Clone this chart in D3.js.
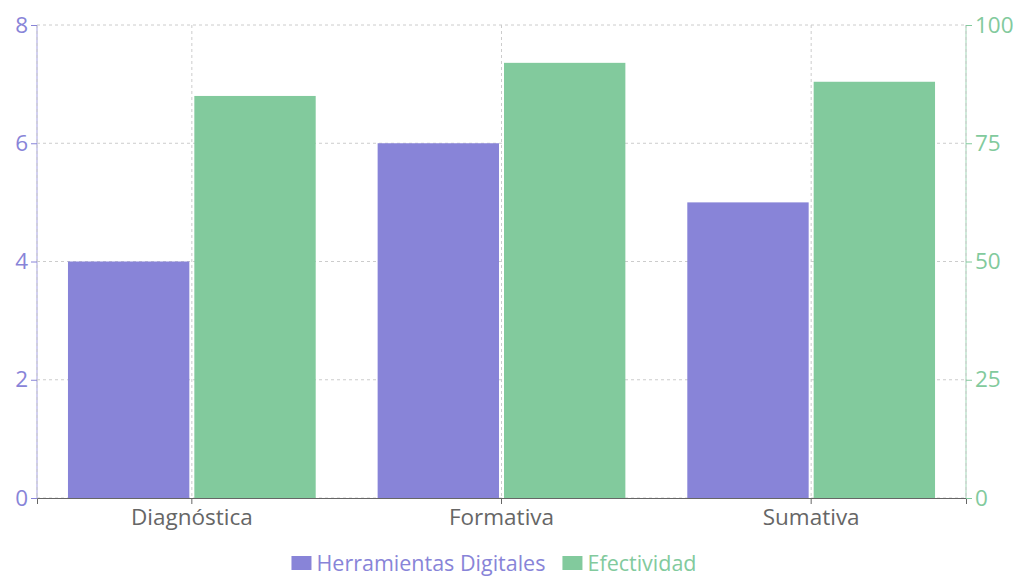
<!DOCTYPE html>
<html>
<head>
<meta charset="utf-8">
<script src="https://cdn.jsdelivr.net/npm/d3@7"></script>
<style>
  body { margin: 0; background: #fff; }
</style>
</head>
<body>
<svg id="chart" width="1016" height="576"></svg>
<script>
// data
const categories = ["Diagnóstica", "Formativa", "Sumativa"];
const herramientas = [4, 6, 5];
const efectividad = [85, 92, 88];
const leftTicks = [0, 2, 4, 6, 8];
const rightTicks = [0, 25, 50, 75, 100];
const seriesNames = ["Herramientas Digitales", "Efectividad"];

const purple = "#8884d8";
const green = "#82ca9d";
const font = "'Open Sans', 'Noto Sans', sans-serif";
const fs = "22.5px";

const margin = { top: 25, right: 50, bottom: 78, left: 37 };
const width = 1016 - margin.left - margin.right;
const height = 576 - margin.top - margin.bottom;

const svg = d3.select("#chart").attr("font-family", font);
const g = svg.append("g").attr("transform", `translate(${margin.left},${margin.top})`);

const band = d3.scaleBand().domain(categories).range([0, width]);
const yL = d3.scaleLinear().domain([0, 8]).range([height, 0]);
const yR = d3.scaleLinear().domain([0, 100]).range([height, 0]);

// axis lines underneath
g.append("line").attr("x1", 0).attr("x2", 0).attr("y1", 0).attr("y2", height)
  .attr("stroke", purple).attr("stroke-opacity", 0.5).attr("stroke-width", 1.5);
g.append("line").attr("x1", width).attr("x2", width).attr("y1", 0).attr("y2", height)
  .attr("stroke", green).attr("stroke-opacity", 0.5).attr("stroke-width", 1.5);

// grid
const grid = g.append("g").attr("stroke", "#ccc").attr("stroke-dasharray", "3 3");
grid.selectAll(".h").data(leftTicks).join("line")
  .attr("x1", 0).attr("x2", width)
  .attr("y1", d => yL(d)).attr("y2", d => yL(d));
const vPos = [0].concat(categories.map(c => band(c) + band.bandwidth() / 2)).concat([width]);
grid.selectAll(".v").data(vPos).join("line")
  .attr("x1", d => d).attr("x2", d => d)
  .attr("y1", 0).attr("y2", height);

// bars
const gap = 5;
const bw = (band.bandwidth() * 0.8 - gap) / 2;
const bars = g.append("g");
categories.forEach((c, i) => {
  const x0 = band(c) + band.bandwidth() * 0.1;
  bars.append("rect")
    .attr("x", x0).attr("y", yL(herramientas[i]))
    .attr("width", bw).attr("height", height - yL(herramientas[i]))
    .attr("fill", purple);
  bars.append("rect")
    .attr("x", x0 + bw + gap).attr("y", yR(efectividad[i]))
    .attr("width", bw).attr("height", height - yR(efectividad[i]))
    .attr("fill", green);
});

// x axis
const xAxis = g.append("g").attr("transform", `translate(0,${height})`)
  .call(d3.axisBottom(band).tickSize(6).tickPadding(5))
  .attr("font-family", font).attr("font-size", fs);
xAxis.select(".domain").attr("stroke", "#666");
xAxis.selectAll(".tick line").attr("stroke", "#666");
xAxis.selectAll("text").attr("fill", "#666");

// left axis
const lAxis = g.append("g")
  .call(d3.axisLeft(yL).tickValues(leftTicks).tickSize(6).tickPadding(3))
  .attr("font-family", font).attr("font-size", fs);
lAxis.select(".domain").remove();
lAxis.selectAll(".tick line").attr("stroke", purple);
lAxis.selectAll("text").attr("fill", purple);

// right axis
const rAxis = g.append("g").attr("transform", `translate(${width},0)`)
  .call(d3.axisRight(yR).tickValues(rightTicks).tickSize(6).tickPadding(3))
  .attr("font-family", font).attr("font-size", fs);
rAxis.select(".domain").remove();
rAxis.selectAll(".tick line").attr("stroke", green);
rAxis.selectAll("text").attr("fill", green);

// legend
const legend = svg.append("g").attr("font-size", "21.5px");
const colors = [purple, green];
let lx = 0;
seriesNames.forEach((name, i) => {
  const it = legend.append("g").attr("transform", `translate(${lx},0)`);
  it.append("rect").attr("x", 0).attr("y", -7).attr("width", 20).attr("height", 14).attr("fill", colors[i]);
  const t = it.append("text").attr("x", 25).attr("dy", "0.35em")
    .attr("fill", colors[i]).text(name);
  lx += 25 + t.node().getComputedTextLength() + 17;
});
const totalW = lx - 17;
legend.attr("transform", `translate(${494 - totalW / 2},563)`);
</script>
</body>
</html>
